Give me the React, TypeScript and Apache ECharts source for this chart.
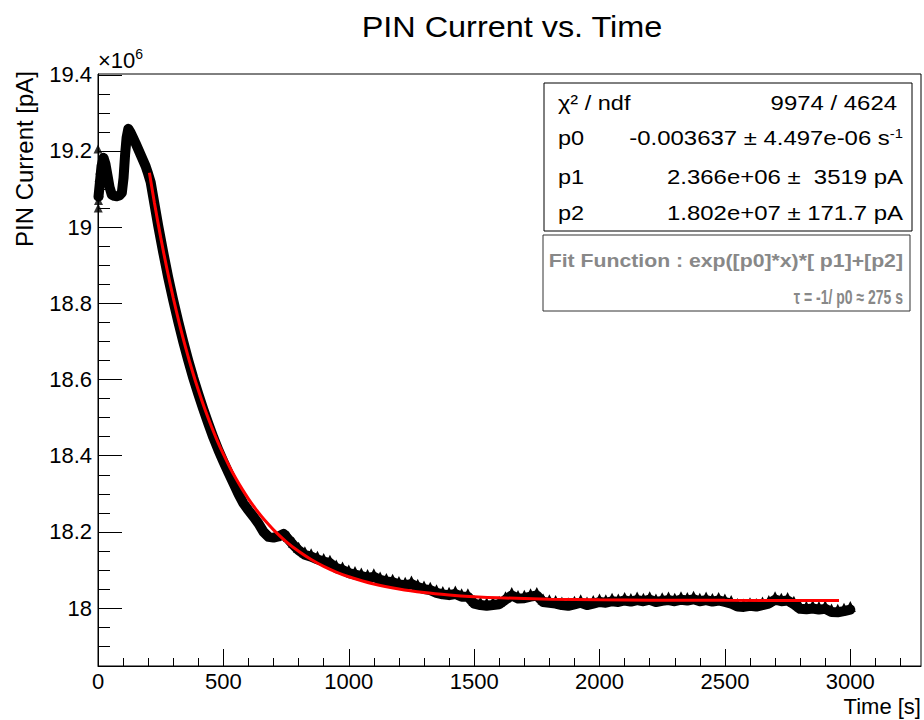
import React, { useEffect, useRef } from 'react';
import * as echarts from 'echarts';

const TITLE = 'PIN Current vs. Time';
const X_NAME = 'Time [s]';
const Y_NAME = 'PIN Current [pA]';

const X_MAJOR = [0, 500, 1000, 1500, 2000, 2500, 3000];
const X_MINOR = [100, 200, 300, 400, 600, 700, 800, 900, 1100, 1200, 1300, 1400, 1600, 1700, 1800, 1900, 2100, 2200, 2300, 2400, 2600, 2700, 2800, 2900, 3100, 3200];
const Y_MAJOR = [18, 18.2, 18.4, 18.6, 18.8, 19, 19.2, 19.4];
const Y_MINOR = [17.9, 17.95, 18.05, 18.1, 18.15, 18.25, 18.3, 18.35, 18.45, 18.5, 18.55, 18.65, 18.7, 18.75, 18.85, 18.9, 18.95, 19.05, 19.1, 19.15, 19.25, 19.3, 19.35];

// measured PIN current (units of 1e6 pA) vs time [s]
const DATA_T = [
  2, 8, 14, 22, 30, 38, 46, 55, 65, 75, 85, 95, 102, 108, 114, 121, 130, 140, 150, 160,
  170, 180, 190, 200, 210, 220, 240, 260, 280, 300, 320, 340, 360, 380, 400, 420, 440, 460, 480, 500,
  520, 540, 560, 580, 600, 620, 640, 660, 680, 700, 720, 740, 760, 780,
  800, 825, 850, 875, 900, 925, 950, 975, 1000, 1025, 1050, 1075, 1100, 1125, 1150, 1175,
  1200, 1225, 1250, 1275, 1300, 1325, 1350, 1375, 1400, 1425, 1450, 1475, 1500, 1525, 1550, 1575,
  1600, 1625, 1650, 1675, 1700, 1725, 1750, 1775, 1800, 1825, 1850, 1875, 1900, 1925, 1950, 1975,
  2000, 2025, 2050, 2075, 2100, 2125, 2150, 2175, 2200, 2225, 2250, 2275, 2300, 2325, 2350, 2375,
  2400, 2425, 2450, 2475, 2500, 2525, 2550, 2575, 2600, 2625, 2650, 2675, 2700, 2725, 2750, 2775,
  2800, 2825, 2850, 2875, 2900, 2925, 2950, 2975, 3000,
];
const DATA_V = [
  19.08, 19.12, 19.16, 19.182, 19.165, 19.135, 19.105, 19.085, 19.082, 19.081, 19.083, 19.09, 19.13, 19.19, 19.235, 19.258, 19.248, 19.234, 19.22, 19.205,
  19.19, 19.175, 19.16, 19.14, 19.118, 19.08, 19.004, 18.934, 18.868, 18.808, 18.752, 18.699, 18.65, 18.604, 18.562, 18.522, 18.484, 18.448, 18.415, 18.385,
  18.356, 18.328, 18.3, 18.275, 18.257, 18.24, 18.222, 18.2, 18.187, 18.185, 18.188, 18.195, 18.18, 18.165,
  18.152, 18.14, 18.135, 18.128, 18.122, 18.118, 18.105, 18.1, 18.092, 18.088, 18.084, 18.08, 18.082, 18.074, 18.07, 18.068,
  18.062, 18.06, 18.063, 18.055, 18.05, 18.047, 18.04, 18.036, 18.034, 18.037, 18.03, 18.03, 18.012, 18.008, 18.006, 18.008,
  18.01, 18.022, 18.033, 18.025, 18.026, 18.03, 18.033, 18.016, 18.014, 18.012, 18.008, 18.006, 18.01, 18.014, 18.008, 18.012,
  18.016, 18.014, 18.018, 18.016, 18.02, 18.017, 18.021, 18.018, 18.022, 18.016, 18.019, 18.021, 18.018, 18.022, 18.02, 18.023,
  18.018, 18.021, 18.017, 18.02, 18.016, 18.012, 18.004, 18.003, 18.006, 18.004, 18.008, 18.012, 18.022, 18.018, 18.02, 18.01,
  17.998, 17.997, 17.999, 17.996, 17.998, 17.99, 17.989, 17.992, 17.996,
];

// scattered first readings near t = 0
const EARLY_T = [0, 1, 2, 3, 4, 5, 6, 7];
const EARLY_V = [19.205, 19.05, 19.07, 19.1, 19.13, 19.09, 19.12, 19.15];

// fitted curve exp(p0*x)*p1+p2
const FIT_T = [205, 225, 250, 275, 300, 325, 350, 375, 400, 425, 450, 475, 500, 525, 550, 575, 600, 625, 650, 675, 700, 750, 800, 850, 900, 950, 1000, 1100, 1200, 1300, 1400, 1500, 1600, 1800, 2000, 2200, 2500, 2955];
const FIT_V = [19.1427, 19.0638, 18.9731, 18.8902, 18.8146, 18.7455, 18.6825, 18.6249, 18.5723, 18.5243, 18.4805, 18.4405, 18.4039, 18.3705, 18.3401, 18.3123, 18.2869, 18.2637, 18.2425, 18.2232, 18.2055, 18.1747, 18.149, 18.1275, 18.1096, 18.0947, 18.0823, 18.0633, 18.0501, 18.0409, 18.0346, 18.0301, 18.027, 18.0234, 18.0216, 18.0208, 18.0203, 18.02];

const STAT_LABELS = ['χ² / ndf', 'p0', 'p1', 'p2'];
const STAT_VALUES = ['9974 / 4624', '-0.003637 ± 4.497e-06 s', '2.366e+06 ±  3519 pA', '1.802e+07 ± 171.7 pA'];
const FIT_TEXT = ['Fit Function : exp([p0]*x)*[ p1]+[p2]', 'τ = -1/ p0 ≈ 275 s'];

const FONT = 'Liberation Sans, Arial, Helvetica, sans-serif';

export default function App() {
  const ref = useRef<HTMLDivElement>(null);
  useEffect(() => {
    if (!ref.current) return;
    const chart = echarts.init(ref.current, undefined, { renderer: 'svg' });
    const rowY = [103, 138, 177, 213];
    const statTexts: any[] = [];
    STAT_LABELS.forEach((lab, i) => {
      statTexts.push({
        type: 'text', x: 558, y: rowY[i], z: 20, scaleX: 1.12,
        style: { text: lab, font: `21px ${FONT}`, fill: '#000', align: 'left', verticalAlign: 'middle' },
      });
      const isP0 = i === 1;
      statTexts.push({
        type: 'text', x: i === 0 ? 897 : 903, y: rowY[i], z: 20, scaleX: 1.14,
        style: isP0
          ? {
              text: `{v|${STAT_VALUES[i]}}{s|-1}`,
              align: 'right', verticalAlign: 'middle',
              rich: {
                v: { fontSize: 21, fontFamily: FONT, fill: '#000' },
                s: { fontSize: 13, fontFamily: FONT, fill: '#000', padding: [0, 0, 10, 0] },
              },
            }
          : { text: STAT_VALUES[i], font: `21px ${FONT}`, fill: '#000', align: 'right', verticalAlign: 'middle' },
      });
    });

    chart.setOption({
      animation: false,
      backgroundColor: '#fff',
      grid: { left: 98, top: 74, right: 3, bottom: 54, show: true, borderColor: '#000', borderWidth: 1, backgroundColor: 'transparent' },
      xAxis: [
        {
          type: 'value', min: 0, max: 3282, position: 'bottom',
          axisLine: { show: true, onZero: false, lineStyle: { color: '#000', width: 1 } },
          axisTick: { show: true, inside: true, length: 17, customValues: X_MAJOR, lineStyle: { color: '#000' } },
          axisLabel: {
            show: true, customValues: X_MAJOR, fontSize: 22, fontFamily: FONT, color: '#000', margin: 4,
            formatter: (v: number) => String(Math.round(v)),
          },
          splitLine: { show: false },
        },
        {
          type: 'value', min: 0, max: 3282, position: 'bottom',
          axisLine: { show: false },
          axisTick: { show: true, inside: true, length: 8, customValues: X_MINOR, lineStyle: { color: '#000' } },
          axisLabel: { show: false },
          splitLine: { show: false },
        },
      ],
      yAxis: [
        {
          type: 'value', min: 17.848, max: 19.402, position: 'left',
          axisLine: { show: true, onZero: false, lineStyle: { color: '#000', width: 1 } },
          axisTick: { show: true, inside: true, length: 24, customValues: Y_MAJOR, lineStyle: { color: '#000' } },
          axisLabel: {
            show: true, customValues: Y_MAJOR, fontSize: 22, fontFamily: FONT, color: '#000', margin: 6,
            formatter: (v: number) => String(Math.round(v * 10) / 10),
          },
          splitLine: { show: false },
        },
        {
          type: 'value', min: 17.848, max: 19.402, position: 'left',
          axisLine: { show: false },
          axisTick: { show: true, inside: true, length: 12, customValues: Y_MINOR, lineStyle: { color: '#000' } },
          axisLabel: { show: false },
          splitLine: { show: false },
        },
      ],
      series: [
        {
          type: 'line', xAxisIndex: 0, yAxisIndex: 0,
          data: DATA_T.map((t, i) => ({
            value: [t, DATA_V[i]],
            symbol: t >= 760 ? 'triangle' : 'none',
          })),
          lineStyle: { color: '#000', width: 10, join: 'round', cap: 'round' },
          symbol: 'triangle', symbolSize: 11, symbolOffset: [0, -3], showSymbol: true,
          itemStyle: { color: '#000' }, z: 2, silent: true,
        },
        {
          type: 'scatter', xAxisIndex: 0, yAxisIndex: 0,
          data: EARLY_T.map((t, i) => [t, EARLY_V[i]]),
          symbol: 'triangle', symbolSize: 9, itemStyle: { color: '#000' }, clip: false, z: 2, silent: true,
        },
        {
          type: 'line', xAxisIndex: 0, yAxisIndex: 0,
          data: FIT_T.map((t, i) => [t, FIT_V[i]]),
          smooth: 0.3, showSymbol: false, symbol: 'none',
          lineStyle: { color: '#ff0000', width: 3 }, z: 10, silent: true,
        },
      ],
      graphic: [
        { type: 'text', x: 512, y: 27, scaleX: 1.08, style: { text: TITLE, font: `30px ${FONT}`, fill: '#000', align: 'center', verticalAlign: 'middle' } },
        {
          type: 'text', x: 98, y: 60,
          style: {
            text: '{a|×10}{b|6}', align: 'left', verticalAlign: 'middle',
            rich: {
              a: { fontSize: 22, fontFamily: FONT, fill: '#000' },
              b: { fontSize: 14, fontFamily: FONT, fill: '#000', padding: [0, 0, 12, 0] },
            },
          },
        },
        { type: 'text', x: 24, y: 159, rotation: Math.PI / 2, style: { text: Y_NAME, font: `24px ${FONT}`, fill: '#000', align: 'center', verticalAlign: 'middle' } },
        { type: 'text', x: 921, y: 706, style: { text: X_NAME, font: `22px ${FONT}`, fill: '#000', align: 'right', verticalAlign: 'middle' } },
        { type: 'rect', shape: { x: 544, y: 83, width: 368, height: 148 }, style: { fill: '#fff', stroke: '#000', lineWidth: 1 }, z: 10 },
        ...statTexts,
        { type: 'rect', shape: { x: 543, y: 235, width: 367, height: 76 }, style: { fill: '#fff', stroke: '#333', lineWidth: 1 }, z: 10 },
        { type: 'text', x: 903, y: 261, z: 20, scaleX: 1.18, style: { text: FIT_TEXT[0], font: `bold 18px ${FONT}`, fill: '#888', align: 'right', verticalAlign: 'middle' } },
        { type: 'text', x: 903, y: 297, z: 20, scaleX: 0.7, style: { text: FIT_TEXT[1], font: `bold 20px ${FONT}`, fill: '#888', align: 'right', verticalAlign: 'middle' } },
      ],
    });
    return () => chart.dispose();
  }, []);
  return <div ref={ref} style={{ position: 'absolute', left: 0, top: 0, width: 924, height: 720 }} />;
}
